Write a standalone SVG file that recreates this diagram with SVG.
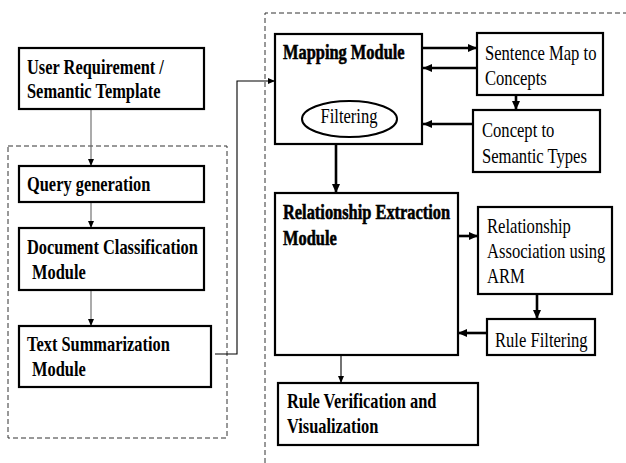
<svg xmlns="http://www.w3.org/2000/svg" width="626" height="463" viewBox="0 0 626 463">
<style>
.box{fill:#fff;stroke:#000;stroke-width:2.2}
.dash{fill:none;stroke:#333;stroke-width:1;stroke-dasharray:5 3}
.thin{fill:none;stroke:#666;stroke-width:1.1}
.thinb{fill:none;stroke:#000;stroke-width:1.1}
.thick{fill:none;stroke:#000;stroke-width:2.6}
text{font-family:"Liberation Serif","Times New Roman",serif;font-size:16.4px;fill:#000}
.b{font-weight:bold}
.bb{font-weight:bold;stroke:#000;stroke-width:0.45}
.r{font-size:16.6px}
</style>
<defs>
<marker id="ah" markerUnits="userSpaceOnUse" markerWidth="7" markerHeight="7" refX="7" refY="3.5" orient="auto">
<path d="M0,0.5 L7,3.5 L0,6.5 z" fill="#000"/>
</marker>
<marker id="ahk" markerUnits="userSpaceOnUse" markerWidth="10" markerHeight="9" refX="9" refY="4.5" orient="auto">
<path d="M0,0.5 L9,4.5 L0,8.5 z" fill="#000"/>
</marker>
</defs>

<g id="containers">
<rect class="dash" x="8" y="146" width="219" height="292"/>
<path class="dash" d="M265,463 L265,13 L626,13"/>
</g>

<g id="connectors">
<line class="thin" x1="91" y1="109" x2="91" y2="166" marker-end="url(#ah)"/>
<line class="thin" x1="91" y1="202" x2="91" y2="228" marker-end="url(#ah)"/>
<line class="thin" x1="91" y1="290" x2="91" y2="326" marker-end="url(#ah)"/>
<polyline class="thinb" points="215,354 237,354 237,81 275,81" marker-end="url(#ah)"/>
<line class="thick" x1="423" y1="48" x2="477" y2="48" marker-end="url(#ahk)"/>
<line class="thick" x1="477" y1="68" x2="423" y2="68" marker-end="url(#ahk)"/>
<line class="thick" x1="516" y1="95" x2="516" y2="110" marker-end="url(#ahk)"/>
<line class="thick" x1="473" y1="124" x2="423" y2="124" marker-end="url(#ahk)"/>
<line class="thick" x1="336" y1="145" x2="336" y2="193" marker-end="url(#ahk)"/>
<line class="thick" x1="458" y1="236" x2="478" y2="236" marker-end="url(#ahk)"/>
<line class="thick" x1="537" y1="294" x2="537" y2="319" marker-end="url(#ahk)"/>
<line class="thick" x1="487" y1="333" x2="458" y2="333" marker-end="url(#ahk)"/>
<line class="thinb" x1="341" y1="355" x2="341" y2="383" marker-end="url(#ah)"/>
</g>

<g id="user-requirement">
<rect class="box" x="19" y="48" width="185" height="61"/>
<text class="b" transform="translate(27,74) scale(1,1.28)">User Requirement /</text>
<text class="b" transform="translate(27,98) scale(1,1.28)">Semantic Template</text>
</g>

<g id="query-generation">
<rect class="box" x="19" y="166" width="185" height="36"/>
<text class="b" transform="translate(27,191) scale(1,1.28)">Query generation</text>
</g>

<g id="document-classification">
<rect class="box" x="19" y="228" width="185" height="62"/>
<text class="b" transform="translate(27,254) scale(1,1.28)">Document Classification</text>
<text class="b" transform="translate(32,279) scale(1,1.28)">Module</text>
</g>

<g id="text-summarization">
<rect class="box" x="19" y="326" width="192" height="61"/>
<text class="b" transform="translate(27,351) scale(1,1.28)">Text Summarization</text>
<text class="b" transform="translate(32,376) scale(1,1.28)">Module</text>
</g>

<g id="mapping-module">
<rect class="box" x="275" y="34" width="147" height="110"/>
<text class="bb" transform="translate(283,59) scale(1,1.28)">Mapping Module</text>
<ellipse cx="349.5" cy="119" rx="47.5" ry="18" fill="#fff" stroke="#000" stroke-width="2"/>
<text class="r" text-anchor="middle" transform="translate(349,123) scale(1,1.28)">Filtering</text>
</g>

<g id="sentence-map">
<rect class="box" x="477" y="33" width="126" height="62"/>
<text class="r" transform="translate(485,60) scale(1,1.28)">Sentence Map to</text>
<text class="r" transform="translate(485,85) scale(1,1.28)">Concepts</text>
</g>

<g id="concept-semantic">
<rect class="box" x="473" y="110" width="127" height="62"/>
<text class="r" transform="translate(482,137) scale(1,1.28)">Concept to</text>
<text class="r" transform="translate(482,163) scale(1,1.28)">Semantic Types</text>
</g>

<g id="relationship-extraction">
<rect class="box" x="275" y="193" width="183" height="162"/>
<text class="bb" transform="translate(283,219) scale(1,1.28)">Relationship Extraction</text>
<text class="bb" transform="translate(283,245) scale(1,1.28)">Module</text>
</g>

<g id="relationship-association">
<rect class="box" x="478" y="207" width="134" height="87"/>
<text class="r" transform="translate(487,233) scale(1,1.28)">Relationship</text>
<text class="r" transform="translate(487,258) scale(1,1.28)">Association using</text>
<text class="r" transform="translate(487,283) scale(1,1.28)">ARM</text>
</g>

<g id="rule-filtering">
<rect class="box" x="487" y="319" width="108" height="36"/>
<text class="r" transform="translate(495,347) scale(1,1.28)">Rule Filtering</text>
</g>

<g id="rule-verification">
<rect class="box" x="278" y="383" width="200" height="62"/>
<text class="b" transform="translate(287,408) scale(1,1.28)">Rule Verification and</text>
<text class="b" transform="translate(287,433) scale(1,1.28)">Visualization</text>
</g>
</svg>
